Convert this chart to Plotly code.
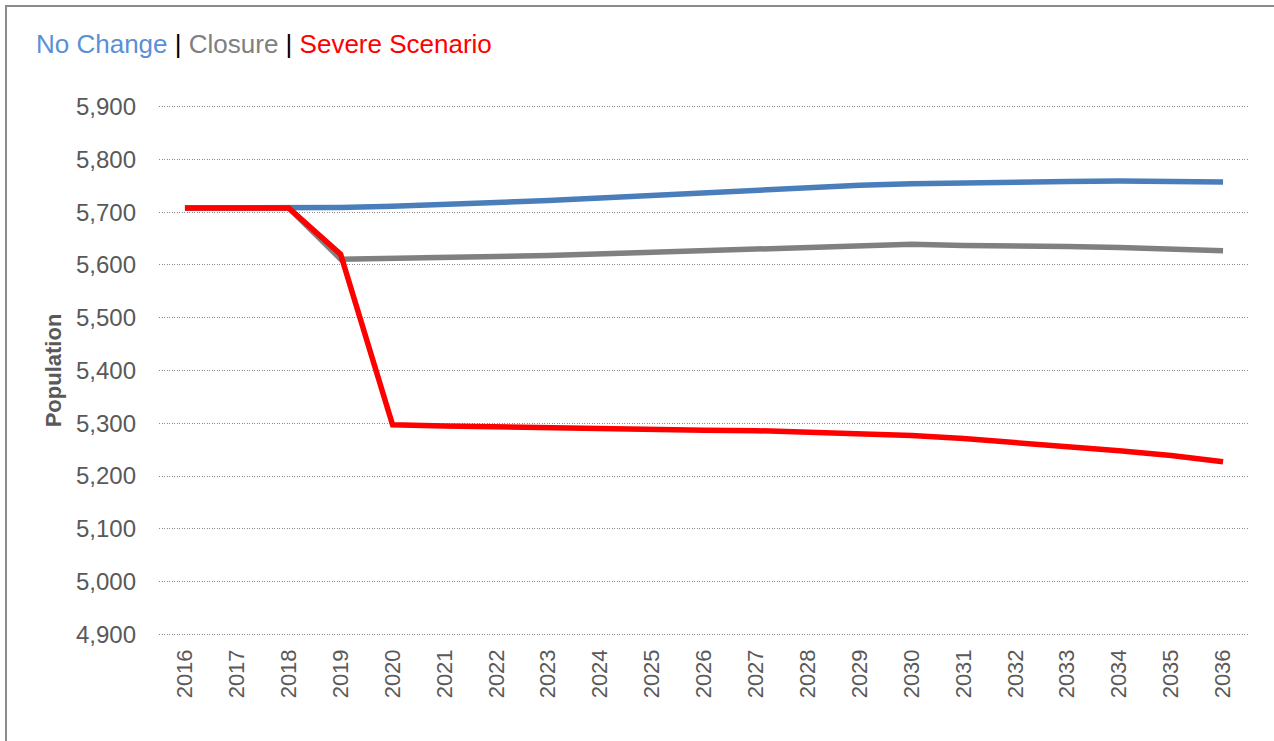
import plotly.graph_objects as go

years = [str(y) for y in range(2016, 2037)]
no_change = [5708, 5708, 5708, 5709, 5711, 5714, 5718, 5722, 5727, 5732, 5737,
             5742, 5747, 5751, 5754, 5756, 5757, 5758, 5759, 5759, 5757]
closure = [5708, 5708, 5708, 5611, 5612, 5614, 5616, 5618, 5621, 5624, 5627,
           5631, 5634, 5636, 5639, 5637, 5637, 5635, 5633, 5631, 5627]
severe = [5708, 5708, 5708, 5620, 5297, 5295, 5293, 5291, 5289, 5288, 5287,
          5286, 5283, 5280, 5277, 5271, 5264, 5256, 5248, 5239, 5227]
y_ticks = [4900, 5000, 5100, 5200, 5300, 5400, 5500, 5600, 5700, 5800, 5900]

W, H = 1274, 741
ML, MR, MT, MB = 159, 25, 105, 105
pw, ph = W - ML - MR, H - MT - MB

fig = go.Figure()
for name, vals, col in [("No Change", no_change, "#4A7EBB"),
                        ("Closure", closure, "#808080"),
                        ("Severe Scenario", severe, "#FF0000")]:
    fig.add_trace(go.Scatter(x=years, y=vals, mode="lines", name=name,
                             line=dict(color=col, width=5.5)))

fig.update_layout(
    width=W, height=H,
    margin=dict(l=ML, r=MR, t=MT, b=MB),
    paper_bgcolor="white", plot_bgcolor="white",
    showlegend=False,
    font=dict(family="Liberation Sans, Arial, sans-serif", color="#595959"),
    title=dict(
        text="<span style='color:#5B8FD6'>No Change</span> <span style='color:#000000'>|</span> "
             "<span style='color:#808080'>Closure</span> <span style='color:#000000'>|</span> "
             "<span style='color:#FF0000'>Severe Scenario</span>",
        x=36 / W, xanchor="left", y=1 - 44 / H, yanchor="middle",
        font=dict(size=26, family="Liberation Sans, Arial, sans-serif")),
)
fig.update_xaxes(type="category", range=[-0.5, 20.5], showgrid=False,
                 showline=False, ticks="",
                 tickangle=-90, tickfont=dict(size=22, color="#595959"),
                 ticklabelstandoff=8)
fig.update_yaxes(range=[4897, 5903], tickvals=y_ticks, tickformat=",",
                 showgrid=True, gridcolor="#8A8A8A", griddash="1px,1.5px", gridwidth=1,
                 zeroline=False, showline=False, ticks="",
                 tickfont=dict(size=24, color="#595959"),
                 ticklabelstandoff=22,
                 title=dict(text="<b>Population</b>", standoff=8,
                            font=dict(size=22, color="#595959")))
# outer chart border
fig.add_shape(type="rect", xref="paper", yref="paper",
              x0=(6 - ML) / pw, x1=(1285 - ML) / pw,
              y0=(H - MB - 760) / ph, y1=(H - MB - 6) / ph,
              line=dict(color="#8C8C8C", width=2), fillcolor="rgba(0,0,0,0)",
              layer="below")
fig.write_html("out.html", config={"displayModeBar": False},
               post_script="document.body.style.margin='0';document.body.style.overflow='hidden';")
